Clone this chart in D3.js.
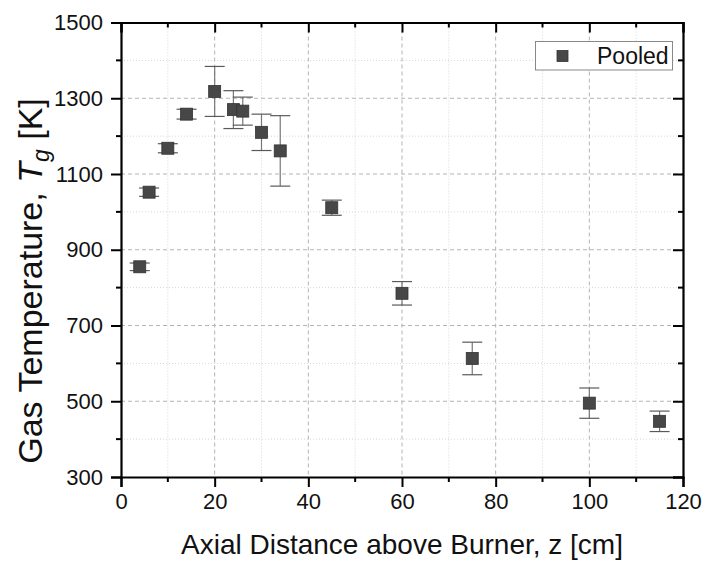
<!DOCTYPE html>
<html>
<head>
<meta charset="utf-8">
<script src="https://cdn.jsdelivr.net/npm/d3@7"></script>
<style>
  body { margin: 0; background: #fff; }
  svg { font-family: "Liberation Sans", Arial, sans-serif; }
</style>
</head>
<body>
<div id="chart-area"></div>
<script>
// data
var zPos = [4, 6, 10, 14, 20, 24, 26, 30, 34, 45, 60, 75, 100, 115];
var tempK = [855, 1052, 1168, 1258, 1318, 1270, 1266, 1210, 1161, 1011, 785, 613, 495, 447];
var tempErr = [10, 11, 12, 13, 66, 50, 37, 48, 93, 20, 31, 43, 40, 27];
var xTicks = [0, 20, 40, 60, 80, 100, 120];
var yTicks = [300, 500, 700, 900, 1100, 1300, 1500];
var seriesName = "Pooled";

var margin = {left: 121, right: 20, top: 22.5, bottom: 84};
var width = 703 - margin.left - margin.right,
    height = 561 - margin.top - margin.bottom;

var svg = d3.select("#chart-area")
    .append("svg")
    .attr("width", 703)
    .attr("height", 561);

var g = svg.append("g")
    .attr("transform", "translate(" + margin.left + "," + margin.top + ")");

var x = d3.scaleLinear().domain([0, 120]).range([0, width]);
var y = d3.scaleLinear().domain([300, 1500]).range([height, 0]);

var xMinor = d3.range(10, 120, 20);
var yMinor = d3.range(400, 1500, 200);

// grid - minor dotted, major dashed
g.append("g").selectAll("line").data(xMinor).enter().append("line")
    .attr("x1", d => x(d)).attr("x2", d => x(d))
    .attr("y1", 0).attr("y2", height)
    .attr("stroke", "#d6d6d6").attr("stroke-width", 1)
    .attr("stroke-dasharray", "1,2");
g.append("g").selectAll("line").data(yMinor).enter().append("line")
    .attr("y1", d => y(d)).attr("y2", d => y(d))
    .attr("x1", 0).attr("x2", width)
    .attr("stroke", "#d6d6d6").attr("stroke-width", 1)
    .attr("stroke-dasharray", "1,2");
g.append("g").selectAll("line").data(xTicks.slice(1, -1)).enter().append("line")
    .attr("x1", d => x(d)).attr("x2", d => x(d))
    .attr("y1", 0).attr("y2", height)
    .attr("stroke", "#b4b4b4").attr("stroke-width", 1)
    .attr("stroke-dasharray", "4,3");
g.append("g").selectAll("line").data(yTicks.slice(1, -1)).enter().append("line")
    .attr("y1", d => y(d)).attr("y2", d => y(d))
    .attr("x1", 0).attr("x2", width)
    .attr("stroke", "#b4b4b4").attr("stroke-width", 1)
    .attr("stroke-dasharray", "4,3");

// axes
var xAxisCall = d3.axisBottom(x).tickValues(xTicks).tickSize(10).tickPadding(6)
    .tickFormat(d3.format("d"));
var xAxis = g.append("g")
    .attr("class", "x-axis")
    .attr("transform", "translate(0," + height + ")")
    .call(xAxisCall);
var yAxisCall = d3.axisLeft(y).tickValues(yTicks).tickSize(10).tickPadding(8)
    .tickFormat(d3.format("d"));
var yAxis = g.append("g")
    .attr("class", "y-axis")
    .call(yAxisCall);

// minor outer ticks
xAxis.selectAll(".minor").data(xMinor).enter().append("line")
    .attr("x1", d => x(d)).attr("x2", d => x(d))
    .attr("y1", 0).attr("y2", 5)
    .attr("stroke", "#000").attr("stroke-width", 2);
yAxis.selectAll(".minor").data(yMinor).enter().append("line")
    .attr("y1", d => y(d)).attr("y2", d => y(d))
    .attr("x1", 0).attr("x2", -5)
    .attr("stroke", "#000").attr("stroke-width", 2);

// top & right axes, ticks inward
var xTop = g.append("g").call(d3.axisTop(x).tickValues(xTicks).tickSize(-10).tickFormat(""));
var yRight = g.append("g").attr("transform", "translate(" + width + ",0)")
    .call(d3.axisRight(y).tickValues(yTicks).tickSize(-10).tickFormat(""));
xTop.selectAll(".minor").data(xMinor).enter().append("line")
    .attr("x1", d => x(d)).attr("x2", d => x(d))
    .attr("y1", 0).attr("y2", 5)
    .attr("stroke", "#000").attr("stroke-width", 2);
yRight.selectAll(".minor").data(yMinor).enter().append("line")
    .attr("y1", d => y(d)).attr("y2", d => y(d))
    .attr("x1", 0).attr("x2", -5)
    .attr("stroke", "#000").attr("stroke-width", 2);

g.selectAll(".domain").attr("stroke", "#000").attr("stroke-width", 2.2);
g.selectAll(".tick line").attr("stroke", "#000").attr("stroke-width", 2);
g.selectAll(".tick text").attr("font-size", "22px").attr("fill", "#111")
    .attr("font-family", "'Liberation Sans', Arial, sans-serif");

// X Label
svg.append("text")
    .attr("x", margin.left + width / 2)
    .attr("y", 554)
    .attr("font-size", "28px")
    .attr("text-anchor", "middle")
    .attr("fill", "#111")
    .text("Axial Distance above Burner, z [cm]");

// Y Label
var yLab = svg.append("text")
    .attr("transform", "translate(42,281) rotate(-90)")
    .attr("font-size", "34px")
    .attr("text-anchor", "middle")
    .attr("fill", "#111");
yLab.append("tspan").text("Gas Temperature, ");
yLab.append("tspan").attr("font-style", "italic").text("T");
yLab.append("tspan").attr("font-style", "italic").attr("font-size", "23px").attr("dy", 7).text("g");
yLab.append("tspan").attr("dy", -7).text(" [K]");

// data
var data = zPos.map((d, i) => ({z: d, t: tempK[i], e: tempErr[i]}));

var bars = g.append("g").selectAll("g").data(data).enter().append("g")
    .attr("stroke", "#5a5a5a").attr("stroke-width", 1.2);
bars.append("line")
    .attr("x1", d => x(d.z)).attr("x2", d => x(d.z))
    .attr("y1", d => y(d.t + d.e)).attr("y2", d => y(d.t - d.e))
    .attr("stroke", "#777");
bars.append("line")
    .attr("x1", d => x(d.z) - 10).attr("x2", d => x(d.z) + 10)
    .attr("y1", d => y(d.t + d.e)).attr("y2", d => y(d.t + d.e));
bars.append("line")
    .attr("x1", d => x(d.z) - 10).attr("x2", d => x(d.z) + 10)
    .attr("y1", d => y(d.t - d.e)).attr("y2", d => y(d.t - d.e));

g.append("g").selectAll("rect").data(data).enter().append("rect")
    .attr("x", d => x(d.z) - 6)
    .attr("y", d => y(d.t) - 6)
    .attr("width", 12)
    .attr("height", 12)
    .attr("fill", "#474747")
    .attr("stroke", "#333")
    .attr("stroke-width", 0.8);

// legend
var leg = svg.append("g");
leg.append("rect")
    .attr("x", 535.5).attr("y", 41.5)
    .attr("width", 137).attr("height", 28.5)
    .attr("fill", "#fff").attr("stroke", "#888").attr("stroke-width", 1);
leg.append("rect")
    .attr("x", 557).attr("y", 50.5)
    .attr("width", 11).attr("height", 11)
    .attr("fill", "#474747").attr("stroke", "#333").attr("stroke-width", 0.8);
leg.append("text")
    .attr("x", 597).attr("y", 64)
    .attr("font-size", "23px")
    .attr("fill", "#111")
    .text(seriesName);
</script>
</body>
</html>
